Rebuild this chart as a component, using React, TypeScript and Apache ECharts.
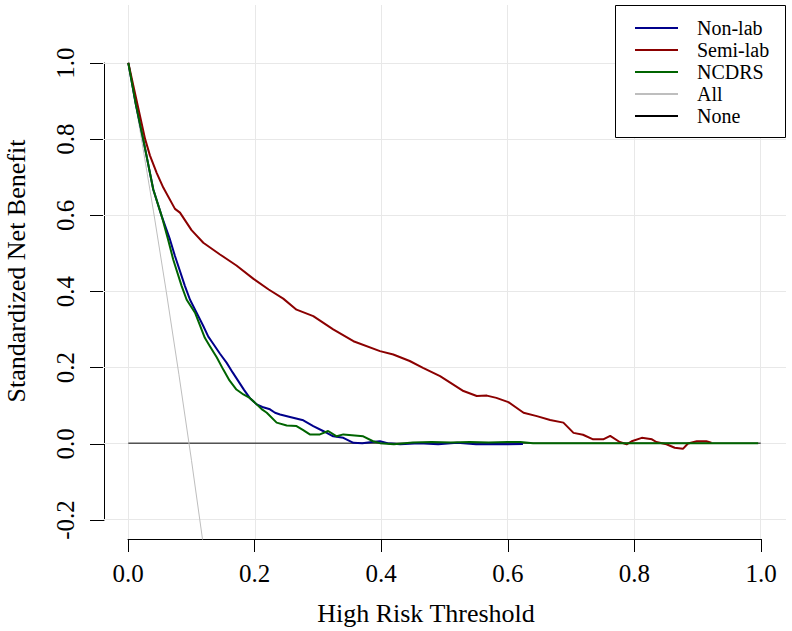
import React, { useEffect, useRef } from 'react';
import * as echarts from 'echarts';

const xTicks = [0, 0.2, 0.4, 0.6, 0.8, 1.0];
const yTicks = [-0.2, 0, 0.2, 0.4, 0.6, 0.8, 1.0];
const seriesNames = ['Non-lab', 'Semi-lab', 'NCDRS', 'All', 'None'];
const seriesColors = ['#00008b', '#8b0000', '#006400', '#bebebe', '#000000'];

const nonLab: [number, number][] = [
  [0, 1], [0.012, 0.89], [0.0237, 0.798], [0.0395, 0.667], [0.0528, 0.597], [0.066, 0.535],
  [0.0738, 0.492], [0.0896, 0.413], [0.0976, 0.377], [0.108, 0.343], [0.118, 0.31], [0.1265, 0.28],
  [0.134, 0.262], [0.145, 0.235], [0.1556, 0.211], [0.165, 0.186], [0.174, 0.163], [0.183, 0.14],
  [0.192, 0.119], [0.203, 0.102], [0.212, 0.095], [0.224, 0.089], [0.232, 0.08], [0.24, 0.0755],
  [0.2557, 0.069], [0.2767, 0.06], [0.2925, 0.045], [0.308, 0.032], [0.324, 0.018], [0.34, 0.014],
  [0.356, 0.001], [0.37, 0.0], [0.385, 0.003], [0.398, 0.005], [0.41, 0.0], [0.43, -0.003],
  [0.46, 0.0], [0.49, -0.003], [0.52, 0.001], [0.55, -0.003], [0.58, -0.002], [0.6, -0.003], [0.624, -0.002],
];

const semiLab: [number, number][] = [
  [0, 1], [0.0133, 0.9], [0.0265, 0.8], [0.0343, 0.756], [0.045, 0.71], [0.0553, 0.672],
  [0.0738, 0.616], [0.0817, 0.606], [0.1, 0.56], [0.1186, 0.527], [0.145, 0.496], [0.171, 0.467],
  [0.198, 0.432], [0.222, 0.404], [0.245, 0.38], [0.266, 0.351], [0.2925, 0.334], [0.324, 0.299],
  [0.356, 0.268], [0.398, 0.242], [0.419, 0.233], [0.445, 0.216], [0.466, 0.198], [0.493, 0.176],
  [0.53, 0.137], [0.551, 0.124], [0.567, 0.125], [0.582, 0.119], [0.601, 0.108], [0.625, 0.08],
  [0.646, 0.071], [0.667, 0.061], [0.688, 0.054], [0.704, 0.027], [0.719, 0.022], [0.735, 0.01],
  [0.751, 0.01], [0.762, 0.019], [0.777, 0.003], [0.788, -0.003], [0.796, 0.005], [0.812, 0.014],
  [0.828, 0.01], [0.835, 0.003], [0.851, -0.003], [0.864, -0.012], [0.877, -0.015], [0.885, -0.001],
  [0.899, 0.005], [0.914, 0.005], [0.922, 0.001],
];

const ncdrs: [number, number][] = [
  [0, 1], [0.012, 0.89], [0.0237, 0.798], [0.0395, 0.667], [0.0528, 0.597], [0.063, 0.535],
  [0.071, 0.483], [0.0844, 0.413], [0.0923, 0.377], [0.1055, 0.343], [0.121, 0.277], [0.129, 0.255],
  [0.14, 0.225], [0.15, 0.194], [0.16, 0.165], [0.171, 0.141], [0.182, 0.128], [0.192, 0.119],
  [0.203, 0.102], [0.212, 0.088], [0.219, 0.08], [0.2346, 0.054], [0.2505, 0.0465], [0.266, 0.045],
  [0.276, 0.035], [0.287, 0.023], [0.303, 0.023], [0.316, 0.032], [0.3295, 0.018], [0.34, 0.023],
  [0.3715, 0.018], [0.387, 0.005], [0.398, 0.0], [0.42, -0.003], [0.45, 0.002], [0.48, 0.003],
  [0.51, 0.002], [0.54, 0.003], [0.57, 0.002], [0.6, 0.003], [0.62, 0.003], [0.64, 0.0], [0.996, 0.0],
];

const allTreat: [number, number][] = [
  [0, 1], [0.02, 0.808], [0.04, 0.608], [0.06, 0.399], [0.08, 0.181], [0.1, -0.046], [0.12, -0.284],
];

const noneTreat: [number, number][] = [[0, 0], [1, 0]];

const FONT = 'Liberation Serif, Times New Roman, serif';

export default function App() {
  const ref = useRef<HTMLDivElement>(null);
  useEffect(() => {
    if (!ref.current) return;
    const chart = echarts.init(ref.current, null, { renderer: 'svg' });
    const lineSeries = (name: string, data: [number, number][], color: string, width: number, extra: any = {}) => ({
      name,
      type: 'line',
      xAxisIndex: 0,
      yAxisIndex: 0,
      data,
      symbol: 'none',
      showSymbol: false,
      clip: true,
      lineStyle: { color, width },
      itemStyle: { color },
      emphasis: { disabled: true },
      silent: true,
      ...extra,
    });
    const option: any = {
      animation: false,
      backgroundColor: '#ffffff',
      grid: [
        { left: 103, right: 6, top: 5, bottom: 92 },
        { left: 128, right: 31, top: 63, bottom: 111 },
      ],
      xAxis: [
        { type: 'value', gridIndex: 0, min: -0.04, max: 1.04, show: false },
        {
          type: 'value', gridIndex: 1, min: 0, max: 1, interval: 0.2, position: 'bottom', offset: 19,
          axisLine: { show: true, onZero: false, lineStyle: { color: '#000', width: 1 } },
          axisTick: { show: true, length: 13, inside: false, lineStyle: { color: '#000', width: 1 } },
          axisLabel: {
            margin: 22, fontSize: 25, fontFamily: FONT, color: '#000',
            formatter: (v: number) => v.toFixed(1),
          },
          splitLine: { show: false },
        },
      ],
      yAxis: [
        { type: 'value', gridIndex: 0, min: -0.252, max: 1.152, show: false },
        {
          type: 'value', gridIndex: 1, min: -0.2, max: 1.0, interval: 0.2, position: 'left', offset: 24,
          axisLine: { show: true, onZero: false, lineStyle: { color: '#000', width: 1 } },
          axisTick: { show: true, length: 14, inside: false, lineStyle: { color: '#000', width: 1 } },
          axisLabel: {
            margin: 26, rotate: 90, fontSize: 25, fontFamily: FONT, color: '#000',
            formatter: (v: number) => v.toFixed(1),
          },
          splitLine: { show: false },
        },
      ],
      legend: {
        orient: 'vertical', left: 635, top: 18, padding: 0, itemGap: 2,
        itemWidth: 43, itemHeight: 2, icon: 'rect', selectedMode: false,
        data: seriesNames,
        formatter: (n: string) => `{t|${n}}`,
        textStyle: {
          rich: { t: { fontFamily: FONT, fontSize: 20, color: '#000', lineHeight: 20, padding: [0, 0, 0, 14] } },
        },
      },
      graphic: [
        {
          type: 'rect', z: 3, silent: true,
          shape: { x: 615.5, y: 5.5, width: 170, height: 132 },
          style: { fill: '#fff', stroke: '#000', lineWidth: 1 },
        },
        {
          type: 'text', x: 426, y: 613, silent: true,
          style: { text: 'High Risk Threshold', fontFamily: FONT, fontSize: 26, fill: '#000', align: 'center', verticalAlign: 'middle' },
        },
        {
          type: 'text', x: 16, y: 271, rotation: Math.PI / 2, silent: true,
          style: { text: 'Standardized Net Benefit', fontFamily: FONT, fontSize: 26, fill: '#000', align: 'center', verticalAlign: 'middle' },
        },
      ],
      series: [
        lineSeries('None', noneTreat, seriesColors[4], 1, {
          markLine: {
            z: 1, silent: true, symbol: ['none', 'none'], label: { show: false }, animation: false,
            emphasis: { disabled: true },
            lineStyle: { color: '#e8e8e8', width: 1, type: 'solid' },
            data: [...xTicks.map((x) => ({ xAxis: x })), ...yTicks.map((y) => ({ yAxis: y }))],
          },
        }),
        lineSeries('All', allTreat, seriesColors[3], 1),
        lineSeries('Non-lab', nonLab, seriesColors[0], 2),
        lineSeries('Semi-lab', semiLab, seriesColors[1], 2),
        lineSeries('NCDRS', ncdrs, seriesColors[2], 2),
      ],
    };
    chart.setOption(option);
    return () => chart.dispose();
  }, []);
  return <div ref={ref} style={{ position: 'absolute', left: 0, top: 0, width: 792, height: 631 }} />;
}
